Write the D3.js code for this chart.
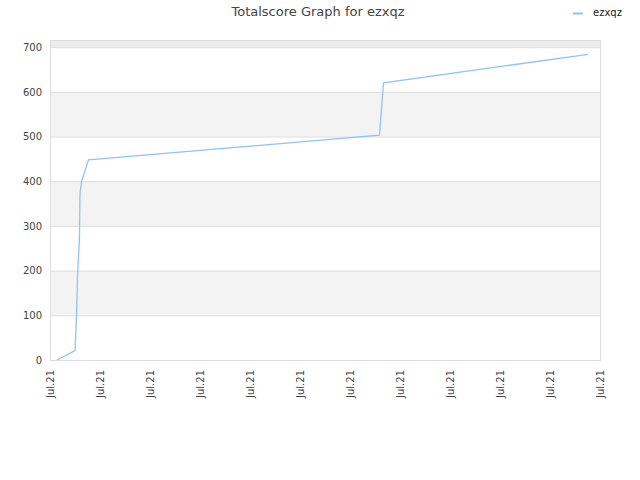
<!DOCTYPE html>
<html><head><meta charset="utf-8">
<script src="https://cdn.jsdelivr.net/npm/d3@7/dist/d3.min.js"></script>
<style>body{margin:0;background:#fff;} svg{display:block;font-family:"DejaVu Sans",sans-serif;}</style>
</head><body>
<script>
const title = "Totalscore Graph for ezxqz";
const seriesName = "ezxqz";
// x in tick units (day fractions), y = total score
const xValues = [0.14, 0.5, 0.53, 0.55, 0.59, 0.6, 0.63, 0.77, 6.59, 6.67, 10.76];
const yValues = [0, 21, 97, 186, 276, 373, 399, 448, 503, 620, 684];
const xTickLabels = ["Jul.21","Jul.21","Jul.21","Jul.21","Jul.21","Jul.21","Jul.21","Jul.21","Jul.21","Jul.21","Jul.21","Jul.21"];
const yTicks = [0,100,200,300,400,500,600,700];

const W=640,H=480, m={l:50,r:40,t:40,b:120};
const svg=d3.select("body").append("svg").attr("width",W).attr("height",H);
const x=d3.scaleLinear().domain([0,xTickLabels.length-1]).range([m.l,W-m.r]);
const y=d3.scaleLinear().domain([0,716]).range([H-m.b,m.t]);

// bands
const bandEdges=yTicks.concat([716]);
for(let i=0;i<bandEdges.length-1;i++){
  const fill = i===bandEdges.length-2 ? "#ececec" : (i%2===1 ? "#f3f3f3" : "#ffffff");
  svg.append("rect").attr("x",x(0)).attr("width",x(xTickLabels.length-1)-x(0))
    .attr("y",y(bandEdges[i+1])).attr("height",y(bandEdges[i])-y(bandEdges[i+1])).attr("fill",fill);
}
// grid
svg.append("g").selectAll("line").data(yTicks).join("line")
  .attr("x1",x(0)).attr("x2",x(xTickLabels.length-1)).attr("y1",d=>y(d)+0.5).attr("y2",d=>y(d)+0.5)
  .attr("stroke","#dddddd");
// border
svg.append("rect").attr("x",x(0)+0.5).attr("y",y(716)+0.5)
  .attr("width",x(xTickLabels.length-1)-x(0)).attr("height",y(0)-y(716))
  .attr("fill","none").attr("stroke","#dddddd");

// y axis labels
const yAxis=d3.axisLeft(y).tickValues(yTicks).tickSize(0).tickPadding(8);
const gy=svg.append("g").attr("transform",`translate(${m.l},0)`).call(yAxis);
gy.select(".domain").remove();
gy.selectAll("text").attr("fill","#444").attr("font-size","10px").attr("font-family","DejaVu Sans, sans-serif");

// x axis labels
const xAxis=d3.axisBottom(x).tickValues(d3.range(xTickLabels.length)).tickFormat((d,i)=>xTickLabels[i]).tickSize(0);
const gx=svg.append("g").attr("transform",`translate(0,${H-m.b})`).call(xAxis);
gx.select(".domain").remove();
gx.selectAll("text").attr("fill","#444").attr("font-size","10px").attr("font-family","DejaVu Sans, sans-serif")
  .attr("text-anchor","end").attr("transform","rotate(-90)").attr("dx","-0.8em").attr("dy","0.35em").attr("y",0).attr("x",-2);

// line
const data=xValues.map((v,i)=>[v,yValues[i]]);
svg.append("path").datum(data).attr("fill","none").attr("stroke","#90c3f5").attr("stroke-width",1.3)
  .attr("d",d3.line().x(d=>x(d[0])).y(d=>y(d[1])));

// title
svg.append("text").attr("x",318).attr("y",16).attr("text-anchor","middle").attr("font-size","13px").attr("fill","#444").text(title);
// legend
svg.append("line").attr("x1",573).attr("x2",583).attr("y1",13.5).attr("y2",13.5).attr("stroke","#90c3f5").attr("stroke-width",2);
svg.append("text").attr("x",593).attr("y",16).attr("font-size","10px").attr("fill","#222").text(seriesName);
</script>
</body></html>
